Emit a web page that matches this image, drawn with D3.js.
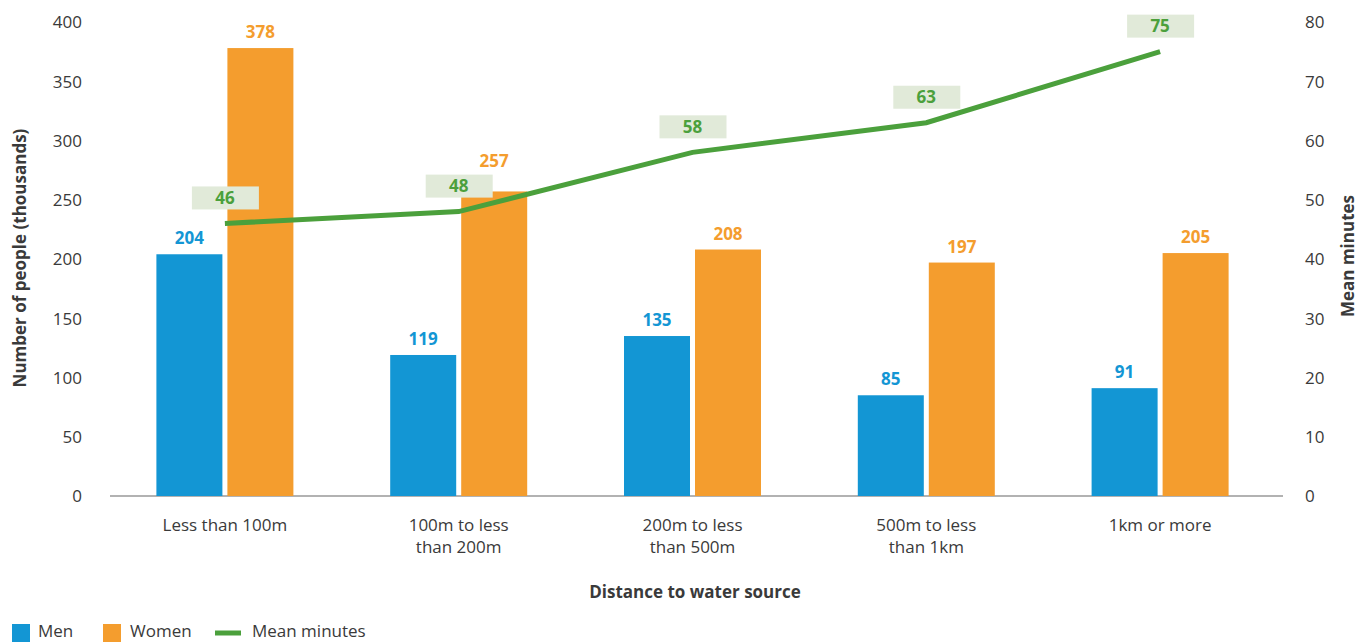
<!DOCTYPE html>
<meta charset="utf-8">
<head>
    <title>Distance to water source</title>
    <script src="https://cdn.jsdelivr.net/npm/d3@7"></script>
    <style>
        body { margin: 0; background: #fff; }
        svg text { font-family: "Open Sans", Lato, sans-serif; }
    </style>
</head>
<body>
<script>
    // data
    const categories = ["Less than 100m", "100m to less than 200m", "200m to less than 500m", "500m to less than 1km", "1km or more"]
    const tickLines = [["Less than 100m"], ["100m to less", "than 200m"], ["200m to less", "than 500m"], ["500m to less", "than 1km"], ["1km or more"]]
    const men = [204, 119, 135, 85, 91]
    const women = [378, 257, 208, 197, 205]
    const meanMinutes = [46, 48, 58, 63, 75]
    const leftTicks = [0, 50, 100, 150, 200, 250, 300, 350, 400]
    const rightTicks = [0, 10, 20, 30, 40, 50, 60, 70, 80]

    const blue = "#1396d4", orange = "#f49d2e", green = "#4ba03c", boxFill = "#e1ead9"
    const textCol = "#3a3a3a"

    const w = 1359, h = 642

    let svg = d3.select("body").append("svg")
        .attr("width", w)
        .attr("height", h)

    const x = d3.scaleBand()
        .domain(categories)
        .range([108, 1277])

    const barW = 66, gap = 5

    const y = d3.scaleLinear().domain([0, 400]).range([496, 22])
    const y2 = d3.scaleLinear().domain([0, 80]).range([496, 22])

    // left axis
    const leftAxis = svg.append("g")
        .attr("transform", "translate(" + 82 + ",0)")
        .call(d3.axisLeft(y).tickValues(leftTicks).tickSize(0).tickPadding(0))
    leftAxis.select(".domain").remove()
    leftAxis.selectAll("text").attr("font-size", 17).attr("fill", textCol).attr("dy", "0.35em")

    // right axis
    const rightAxis = svg.append("g")
        .attr("transform", "translate(" + 1305 + ",0)")
        .call(d3.axisRight(y2).tickValues(rightTicks).tickSize(0).tickPadding(0))
    rightAxis.select(".domain").remove()
    rightAxis.selectAll("text").attr("font-size", 17).attr("fill", textCol).attr("dy", "0.35em")

    // baseline
    svg.append("line")
        .attr("x1", 110).attr("x2", 1283)
        .attr("y1", y(0)).attr("y2", y(0))
        .attr("stroke", "#666").attr("stroke-width", 1.2)

    // bars
    const cx = d => x(d) + x.bandwidth() / 2

    const groups = svg.append("g").selectAll("g")
        .data(categories)
        .enter().append("g")

    groups.append("rect")
        .attr("x", d => cx(d) - gap / 2 - barW)
        .attr("y", (d, i) => y(men[i]))
        .attr("width", barW)
        .attr("height", (d, i) => y(0) - y(men[i]))
        .attr("fill", blue)

    groups.append("rect")
        .attr("x", d => cx(d) + gap / 2)
        .attr("y", (d, i) => y(women[i]))
        .attr("width", barW)
        .attr("height", (d, i) => y(0) - y(women[i]))
        .attr("fill", orange)

    // label box geometry for the line labels
    const boxH = 23, boxGap = 14
    const boxTop = i => y2(meanMinutes[i]) - boxGap - boxH

    groups.append("text")
        .attr("x", d => cx(d) - gap / 2 - barW / 2)
        .attr("y", (d, i) => y(men[i]) - 10)
        .attr("text-anchor", "middle")
        .attr("font-size", 17).attr("font-weight", "bold")
        .attr("fill", blue)
        .text((d, i) => men[i])

    groups.append("text")
        .attr("x", d => cx(d) + gap / 2 + barW / 2)
        .attr("y", (d, i) => {
            let ty = y(women[i]) - 10
            // push up if it runs into the line label box
            if (ty > boxTop(i) && ty - 13 < boxTop(i) + boxH) ty = boxTop(i) - 8
            return ty
        })
        .attr("text-anchor", "middle")
        .attr("font-size", 17).attr("font-weight", "bold")
        .attr("fill", orange)
        .text((d, i) => women[i])

    // x tick labels
    groups.append("text")
        .attr("x", d => cx(d))
        .attr("y", 531)
        .attr("text-anchor", "middle")
        .attr("font-size", 17)
        .attr("fill", textCol)
        .selectAll("tspan")
        .data((d, i) => tickLines[i])
        .enter().append("tspan")
        .attr("x", function () { return d3.select(this.parentNode).attr("x") })
        .attr("dy", (d, j) => j === 0 ? 0 : 22)
        .text(d => d)

    // mean minutes line
    const line = d3.line()
        .x((d, i) => cx(categories[i]))
        .y(d => y2(d))

    svg.append("path")
        .datum(meanMinutes)
        .attr("d", line)
        .attr("fill", "none")
        .attr("stroke", green)
        .attr("stroke-width", 5)

    const labels = svg.append("g").selectAll("g")
        .data(meanMinutes)
        .enter().append("g")
        .attr("transform", (d, i) => "translate(" + cx(categories[i]) + "," + boxTop(i) + ")")

    labels.append("rect")
        .attr("x", -33).attr("y", 0)
        .attr("width", 67).attr("height", boxH)
        .attr("fill", boxFill)

    labels.append("text")
        .attr("y", 17.5)
        .attr("text-anchor", "middle")
        .attr("font-size", 17).attr("font-weight", "bold")
        .attr("fill", green)
        .text(d => d)

    // axis titles
    svg.append("text")
        .attr("transform", "translate(26,258) rotate(-90)")
        .attr("text-anchor", "middle")
        .attr("font-size", 17).attr("font-weight", "bold")
        .attr("fill", textCol)
        .text("Number of people (thousands)")

    svg.append("text")
        .attr("transform", "translate(1354,256) rotate(-90)")
        .attr("text-anchor", "middle")
        .attr("font-size", 17).attr("font-weight", "bold")
        .attr("fill", textCol)
        .text("Mean minutes")

    svg.append("text")
        .attr("x", 695).attr("y", 598)
        .attr("text-anchor", "middle")
        .attr("font-size", 17).attr("font-weight", "bold")
        .attr("fill", textCol)
        .text("Distance to water source")

    // legend
    const legend = svg.append("g")
    legend.append("rect").attr("x", 12).attr("y", 624).attr("width", 18).attr("height", 18).attr("fill", blue)
    legend.append("text").attr("x", 38).attr("y", 637).attr("font-size", 17).attr("fill", textCol).text("Men")
    legend.append("rect").attr("x", 103).attr("y", 624).attr("width", 18).attr("height", 18).attr("fill", orange)
    legend.append("text").attr("x", 130).attr("y", 637).attr("font-size", 17).attr("fill", textCol).text("Women")
    legend.append("line").attr("x1", 215).attr("x2", 241).attr("y1", 633).attr("y2", 633).attr("stroke", green).attr("stroke-width", 5)
    legend.append("text").attr("x", 252).attr("y", 637).attr("font-size", 17).attr("fill", textCol).text("Mean minutes")
</script>
</body>
</html>
